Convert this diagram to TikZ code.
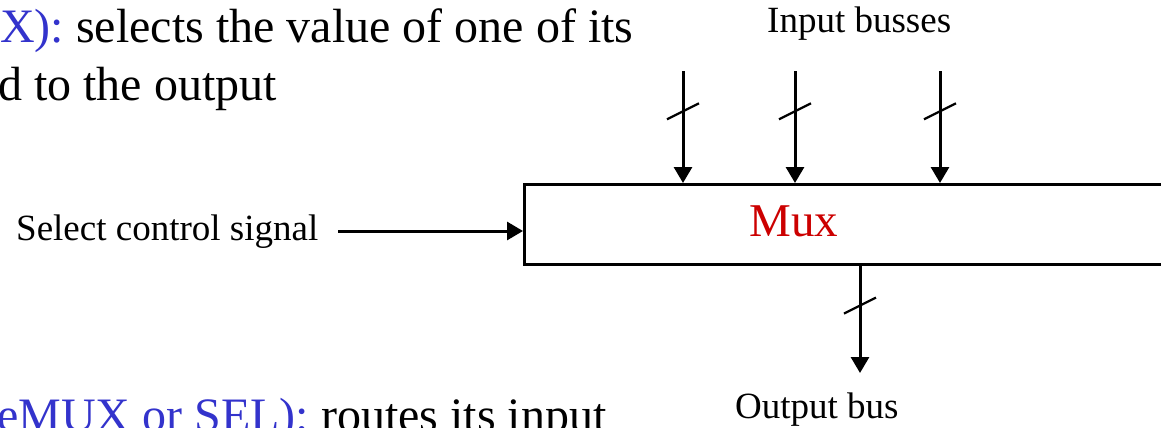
\documentclass[tikz,border=0pt]{standalone}
\usepackage{fontspec}
\setmainfont{Liberation Serif}
\usetikzlibrary{arrows.meta,decorations.markings}
\definecolor{termblue}{RGB}{51,51,204}
\definecolor{muxred}{RGB}{204,0,0}
\begin{document}
\begin{tikzpicture}[x=1pt,y=-1pt,
  wire/.style={line width=3pt},
  sig/.style={wire,-{Triangle[length=16pt,width=18pt]}},
  bus/.style={sig,postaction={decorate},
    decoration={markings,mark=at position #1 with
      {\draw[-,line width=2.2pt] (8pt,-16pt) -- (-8pt,16pt);}}},
  smalltext/.style={font=\fontsize{37}{44}\selectfont,inner sep=0pt},
  bodytext/.style={font=\fontsize{48}{57}\selectfont,inner sep=0pt}]
\useasboundingbox (0,0) rectangle (1161,428);
\clip (0,0) rectangle (1161,428);

% running text of the slide
\node[bodytext,anchor=base west] (line1) at (0,43)
  {{\color{termblue}X):} selects the value of one of its};
\node[bodytext,anchor=base west] (line2) at (-2,100) {d to the output};
\node[bodytext,anchor=base west] (line3) at (-3,431)
  {{\color{termblue}eMUX or SEL):} routes its input};

% multiplexer block
\node[draw,wire,minimum width=700pt,minimum height=80pt,inner sep=0pt,
  anchor=north west] (box) at (523,183) {};
\node[font=\fontsize{47}{56}\selectfont,text=muxred,inner sep=0pt,
  anchor=base] (muxlabel) at (794,236) {Mux};

% input busses
\node[smalltext,anchor=base west] (inlabel) at (767,33) {Input busses};
\coordinate (in1) at (683,71);
\coordinate (in2) at (795,71);
\coordinate (in3) at (940,71);
\foreach \i in {in1,in2,in3}
  \draw[bus=0.36] (\i) -- (\i |- box.north);

% select line
\node[smalltext,anchor=base west] (sellabel) at (16,240) {Select control signal};
\coordinate (selstart) at (338,231);
\draw[sig] (selstart) -- (selstart -| box.west);

% output bus
\coordinate (outend) at (860,373);
\draw[bus=0.37] (outend |- box.south) -- (outend);
\node[smalltext,anchor=base west] (outlabel) at (735,418) {Output bus};
\end{tikzpicture}
\end{document}
